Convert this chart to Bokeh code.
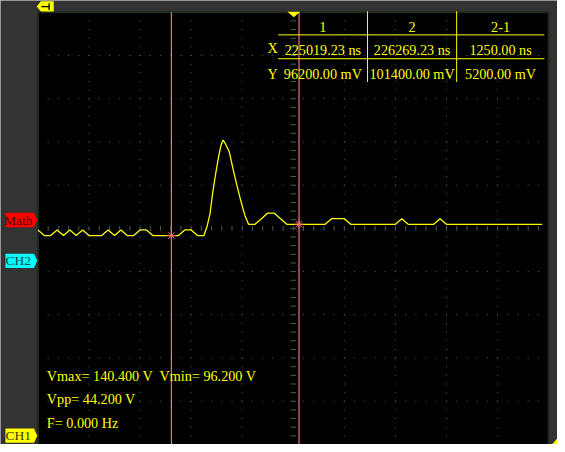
import numpy as np
from bokeh.plotting import figure
from bokeh.models import Range1d
from bokeh.core.properties import value
from bokeh.embed import file_html
from bokeh.resources import INLINE

TIME_NS = [223713, 223775.5, 223838, 223900.5, 223963, 224025.5, 224088, 224150.5,
           224213, 224275.5, 224338, 224400.5, 224463, 224525.5, 224588, 224650.5,
           224713, 224775.5, 224838, 224900.5, 224963, 225025.5, 225088, 225150.5,
           225213, 225275.5, 225338,
           225369, 225398, 225422, 225451, 225480, 225504, 225525, 225547, 225586,
           225624, 225663, 225702, 225740,
           225775.5, 225838, 225900.5, 225963, 226025.5, 226088, 226150.5, 226525.5,
           226588, 226713, 226775.5, 227213, 227275.5, 227338, 227588, 227650.5,
           227713, 228650.5]
MATH_V = [98.8, 96.2, 96.2, 98.8, 96.2, 98.8, 96.2, 98.8,
          96.2, 96.2, 96.2, 98.8, 96.2, 98.8, 96.2, 96.2,
          98.8, 98.8, 96.2, 96.2, 96.2, 96.2, 96.2, 98.8,
          98.8, 96.2, 96.2,
          100.4, 106.3, 115.4, 124.1, 132.2, 137.7, 140.4, 138.8, 135.0,
          126.8, 119.1, 111.8, 105.4,
          101.4, 101.4, 104.0, 106.6, 106.6, 104.0, 101.4, 101.4,
          104.0, 104.0, 101.4, 101.4, 104.0, 101.4, 101.4, 104.0,
          101.4, 101.4]
CURSOR_X_NS = [225019.23, 226269.23]
CURSOR_Y_V = [96.2, 101.4]
FREQ_HZ = 0.0
TABLE_HEAD = ["1", "2", "2-1"]
ROW_LABELS = ["X", "Y"]

# ---------------- screen geometry ----------------
NS_PER_DIV = 500.0
V_PER_DIV = 20.0
PX_DIV_X = 51.8
PX_DIV_Y = 44.0
T_LEFT = 223713.2
V_BOTTOM = -0.5
SCR_L, SCR_R, SCR_T, SCR_B = 38.0, 556.0, 12.0, 452.0

def tx(px):
    return T_LEFT + (px - SCR_L) * NS_PER_DIV / PX_DIV_X

def vy(py):
    return V_BOTTOM + (SCR_B - py) * V_PER_DIV / PX_DIV_Y

W, H = 557, 444
p = figure(width=W, height=H, x_range=Range1d(tx(0), tx(565)), y_range=Range1d(vy(452), vy(0)),
           output_backend="svg", toolbar_location=None, min_border=0)
p.axis.visible = False
p.grid.visible = False
p.outline_line_color = None
p.background_fill_color = "#333333"
p.border_fill_color = "#333333"

FONT = value("Liberation Serif")
FS = "14.2px"
YEL = "#ffff00"

# screen area
p.quad(left=[tx(SCR_L)], right=[tx(SCR_R)], bottom=[vy(SCR_B + 5)], top=[vy(SCR_T)],
       fill_color="#000000", line_color="#1e2c1e", line_width=2)

# dotted grid
t_div = T_LEFT + NS_PER_DIV * np.arange(11)
v_div = V_BOTTOM + V_PER_DIV * np.arange(11)
t_minor = T_LEFT + NS_PER_DIV / 5 * np.arange(1, 50)
v_minor = V_BOTTOM + V_PER_DIV / 5 * np.arange(1, 50)
gx, gy = [], []
for j in [1, 2, 3, 4, 6, 7, 8, 9]:
    gx += [t_div[j]] * len(v_minor)
    gy += list(v_minor)
    gx += list(t_minor)
    gy += [v_div[j]] * len(t_minor)
p.rect(gx, gy, width=1, height=1, width_units="screen", height_units="screen",
       fill_color="#5c5c5c", line_color=None)

# centre axes with ticks
tc, vc = t_div[5], v_div[5]
dv = 1.1
dt = 27.0
p.segment(x0=t_minor, y0=vc - dv, x1=t_minor, y1=vc + dv, line_color="#4e5a4e", line_width=1)
p.segment(x0=tc - dt, y0=v_minor, x1=tc + dt, y1=v_minor, line_color="#4e5a4e", line_width=1)

# cursors
for cx in CURSOR_X_NS:
    p.segment(x0=[cx], y0=[vy(SCR_B + 5)], x1=[cx], y1=[vy(SCR_T)], line_color="#ff8484", line_width=1.1)

# trace
p.line(TIME_NS, MATH_V, line_color=YEL, line_width=1.3)

# cursor markers
p.scatter(CURSOR_X_NS, CURSOR_Y_V, marker="asterisk", size=9, line_color="#ff6a6a", line_width=1)

# cursor table
col_edges = [tx(281.7), tx(372.3), tx(462.7), tx(551.7)]
row_edges = [vy(11), vy(35), vy(59.3), vy(83)]
p.segment(x0=[col_edges[0]] * 2, y0=row_edges[1:3], x1=[col_edges[3]] * 2, y1=row_edges[1:3],
          line_color=YEL, line_width=1)
p.segment(x0=col_edges[1:3], y0=[row_edges[0]] * 2, x1=col_edges[1:3], y1=[row_edges[3]] * 2,
          line_color=YEL, line_width=1)
col_c = [(col_edges[i] + col_edges[i + 1]) / 2 for i in range(3)]
dx = CURSOR_X_NS[1] - CURSOR_X_NS[0]
dyv = CURSOR_Y_V[1] - CURSOR_Y_V[0]
xrow = [f"{CURSOR_X_NS[0]:.2f} ns", f"{CURSOR_X_NS[1]:.2f} ns", f"{dx:.2f} ns"]
yrow = [f"{CURSOR_Y_V[0]*1000:.2f} mV", f"{CURSOR_Y_V[1]*1000:.2f} mV", f"{dyv*1000:.2f} mV"]
p.text(col_c, [vy(26.5)] * 3, text=TABLE_HEAD, text_color=YEL, text_font=FONT,
       text_font_size=FS, text_align="center", text_baseline="middle")
p.text(col_c, [vy(50)] * 3, text=xrow, text_color=YEL, text_font=FONT,
       text_font_size=FS, text_align="center", text_baseline="middle")
p.text(col_c, [vy(75)] * 3, text=yrow, text_color=YEL, text_font=FONT,
       text_font_size=FS, text_align="center", text_baseline="middle")
p.text([tx(276)] * 2, [vy(48), vy(75)], text=ROW_LABELS, text_color=YEL, text_font=FONT,
       text_font_size=FS, text_align="center", text_baseline="middle")

# measurements
vmax, vmin = max(MATH_V), min(MATH_V)
meas = [f"Vmax= {vmax:.3f} V\u00a0 Vmin= {vmin:.3f} V", f"Vpp= {vmax - vmin:.3f} V", f"F= {FREQ_HZ:.3f} Hz"]
p.text([tx(47)] * 3, [vy(382), vy(406), vy(430)], text=meas, text_color=YEL, text_font=FONT,
       text_font_size=FS, text_align="left", text_baseline="middle")

# channel tags
def tag(yc, color, label, tcolor):
    xs = [tx(5), tx(34), tx(37.3), tx(34), tx(5)]
    ys = [vy(yc - 7.3), vy(yc - 7.3), vy(yc), vy(yc + 7.3), vy(yc + 7.3)]
    p.patch(xs, ys, fill_color=color, line_color=None)
    p.text([tx(18)], [vy(yc)], text=[label], text_color=tcolor, text_font=FONT,
           text_font_size="13.5px", text_align="center", text_baseline="middle")

tag(223.5, "#ff0000", "Math", "#4a0000")
tag(265.0, "#00ffff", "CH2", "#004848")
tag(443.0, YEL, "CH1", "#3a3a00")

# trigger position marker (top) and T tag
p.patch([tx(291), tx(304), tx(297.5)], [vy(11.5), vy(11.5), vy(17)], fill_color=YEL, line_color=None)
p.patch([tx(36.7), tx(41), tx(54), tx(54), tx(41)], [vy(6), vy(0.7), vy(0.7), vy(11.3), vy(11.3)],
        fill_color=YEL, line_color=None)
p.segment(x0=[tx(41.5), tx(49.3)], y0=[vy(6.2), vy(2.7)], x1=[tx(49.3), tx(49.3)], y1=[vy(6.2), vy(9.7)],
          line_color="#000000", line_width=1.3)
# trigger level marker (bottom right)
p.patch([tx(565), tx(559.3), tx(565)], [vy(445.7), vy(452), vy(452)], fill_color=YEL, line_color=None)

open("out.html", "w").write(file_html(p, INLINE))
